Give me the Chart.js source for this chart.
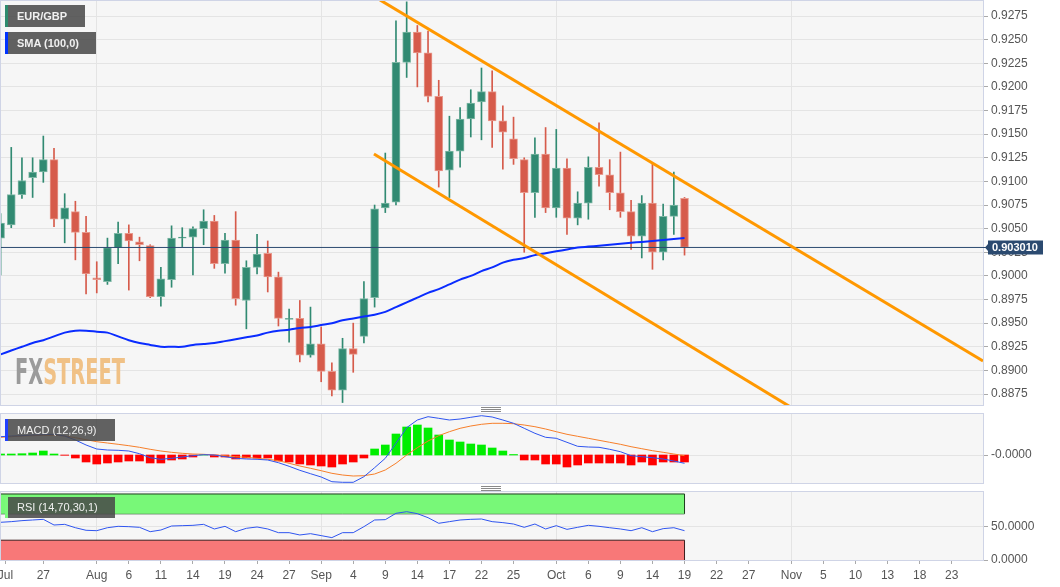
<!DOCTYPE html>
<html>
<head>
<meta charset="utf-8">
<title>EUR/GBP</title>
<script src="https://cdn.jsdelivr.net/npm/chart.js@4.4.1/dist/chart.umd.min.js"></script>
<style>
  body { margin: 0; background: #fff; font-family: "Liberation Sans", Arial, sans-serif; }
  #wrap { position: relative; width: 1060px; height: 587px; overflow: hidden; background: #fff; }
  canvas { position: absolute; left: 0; }
  .tag { position: absolute; left: 5px; height: 22px; line-height: 22px; background: rgba(72,72,72,0.86);
         color: #f0f0f0; font-size: 11px; font-weight: bold; padding-left: 9px; box-sizing: border-box; border-left: 3px solid; white-space: nowrap; }
  .grip { position: absolute; left: 481px; width: 20px; height: 5px;
          background: linear-gradient(#8a8a8a 0 1px, transparent 1px 2px, #8a8a8a 2px 3px, transparent 3px 4px, #8a8a8a 4px 5px); }
  #logo { position: absolute; left: 15px; top: 354px; font-family: "Liberation Sans Narrow", "DejaVu Sans Condensed", sans-serif;
          font-weight: bold; font-size: 36px; line-height: 36px; white-space: nowrap; transform-origin: 0 0; }
</style>
</head>
<body>
<div id="wrap">
  <canvas id="main" width="1060" height="410" style="top:0"></canvas>
  <canvas id="macd" width="1060" height="78" style="top:410px"></canvas>
  <canvas id="rsi" width="1060" height="99" style="top:488px"></canvas>
  <div id="logo"><span style="color:#9b9b9b">FX</span><span style="color:#f0c186">STREET</span></div>
  <div class="tag" style="top:5px;width:80px;border-left-color:#2e8b6e">EUR/GBP</div>
  <div class="tag" style="top:32px;width:91px;border-left-color:#0033ff">SMA (100,0)</div>
  <div class="tag" style="top:419px;width:110px;font-weight:normal;border-left-color:#2040ff">MACD (12,26,9)</div>
  <div class="tag" style="top:497px;width:110px;height:21px;line-height:21px;font-weight:normal;border-left-color:#7cf87c">RSI (14,70,30,1)</div>
  <div class="grip" style="top:407px"></div>
  <div class="grip" style="top:486px"></div>
</div>
<script>
// daily candles, 21 Jul .. 19 Oct (index 0..64)
var open = [0.9040,0.9054,0.9086,0.9104,0.9110,0.9123,0.9060,0.9068,0.9046,0.8998,
            0.8994,0.9030,0.9045,0.9036,0.9032,0.8978,0.8996,0.9040,0.9041,0.9050,
            0.9058,0.9013,0.9038,0.8974,0.9009,0.9024,0.8999,0.8954,0.8955,0.8916,
            0.8928,0.8899,0.8879,0.8923,0.8936,0.8977,0.9072,0.9078,0.9226,0.9258,
            0.9236,0.9190,0.9112,0.9132,0.9166,0.9184,0.9195,0.9164,0.9145,0.9123,
            0.9088,0.9129,0.9072,0.9114,0.9061,0.9077,0.9115,0.9107,0.9088,0.9068,
            0.9042,0.9077,0.9025,0.9063,0.9082];
var high = [0.9066,0.9136,0.9125,0.9125,0.9148,0.9135,0.9087,0.9079,0.9063,0.9015,
            0.9040,0.9057,0.9054,0.9041,0.9033,0.9009,0.9053,0.9051,0.9052,0.9070,
            0.9064,0.9045,0.9068,0.9016,0.9044,0.9037,0.9004,0.8965,0.8974,0.8967,
            0.8946,0.8908,0.8934,0.8950,0.8994,0.9075,0.9130,0.9270,0.9290,0.9265,
            0.9259,0.9207,0.9169,0.9178,0.9197,0.9220,0.9217,0.9180,0.9168,0.9125,
            0.9146,0.9157,0.9155,0.9124,0.9089,0.9126,0.9162,0.9123,0.9131,0.9080,
            0.9085,0.9119,0.9076,0.9110,0.9083];
var low = [0.9001,0.9051,0.9082,0.9083,0.9099,0.9052,0.9035,0.9017,0.8981,0.8982,
           0.8991,0.9013,0.8985,0.9016,0.8977,0.8968,0.8988,0.9031,0.9001,0.9033,
           0.9008,0.9003,0.8969,0.8944,0.9002,0.8983,0.8947,0.8930,0.8909,0.8914,
           0.8888,0.8873,0.8866,0.8898,0.8929,0.8967,0.9067,0.9075,0.9210,0.9200,
           0.9184,0.9094,0.9083,0.9115,0.9147,0.9144,0.9136,0.9113,0.9118,0.9025,
           0.9062,0.9067,0.9062,0.9044,0.9054,0.9060,0.9095,0.9070,0.9062,0.9028,
           0.9019,0.9007,0.9017,0.9044,0.9022];
var close = [0.9056,0.9086,0.9101,0.9110,0.9123,0.9060,0.9072,0.9046,0.9002,0.8996,
             0.9030,0.9045,0.9037,0.9033,0.8978,0.8997,0.9040,0.9041,0.9050,0.9058,
             0.9013,0.9038,0.8976,0.9009,0.9023,0.8999,0.8955,0.8955,0.8916,0.8928,
             0.8899,0.8879,0.8923,0.8917,0.8976,0.9071,0.9077,0.9226,0.9258,0.9236,
             0.9190,0.9111,0.9132,0.9166,0.9183,0.9195,0.9164,0.9152,0.9124,0.9088,
             0.9129,0.9072,0.9114,0.9061,0.9077,0.9115,0.9107,0.9088,0.9068,0.9042,
             0.9077,0.9025,0.9063,0.9075,0.90301];
var sma = [0.8917,0.8921,0.8925,0.8929,0.8932,0.8936,0.8940,0.8942,0.8942,0.8941,
           0.8940,0.8936,0.8932,0.8929,0.8927,0.8925,0.8925,0.8925,0.8927,0.8928,
           0.8929,0.8931,0.8933,0.8935,0.8937,0.8940,0.8942,0.8943,0.8945,0.8946,
           0.8948,0.8950,0.8953,0.8955,0.8957,0.8959,0.8962,0.8967,0.8972,0.8977,
           0.8982,0.8986,0.8991,0.8996,0.9000,0.9005,0.9009,0.9014,0.9017,0.9019,
           0.9022,0.9024,0.9026,0.9028,0.9030,0.9031,0.9032,0.9033,0.9034,0.9035,
           0.9036,0.9037,0.9038,0.9039,0.9040];
var macdLine = [0.00183,0.0019,0.00193,0.002,0.00203,0.00207,0.0019,0.0015,0.001,0.0006,
                0.0005,0.00047,0.0004,0.00013,-0.00027,-0.00043,-0.00033,-0.0002,-0.00007,0.00003,
                0,-0.00017,-0.00033,-0.0004,-0.00043,-0.0005,-0.00077,-0.00113,-0.00153,-0.00187,
                -0.0022,-0.00267,-0.00273,-0.00273,-0.00217,-0.00127,-0.00033,0.00117,0.00273,0.0035,
                0.00383,0.00367,0.0035,0.0036,0.00377,0.00393,0.0038,0.0035,0.00317,0.00267,
                0.00217,0.00177,0.00167,0.00127,0.00087,0.0008,0.00077,0.00057,0.00033,-0.00007,
                -0.00017,-0.00027,-0.0004,-0.0006,-0.00083];
var signalLine = [0.00177,0.00183,0.0019,0.00193,0.00197,0.00197,0.0019,0.00173,0.00153,0.00133,
                  0.0012,0.00107,0.00093,0.00077,0.00057,0.0004,0.00027,0.00017,0.0001,0.00007,
                  0,-0.00007,-0.00017,-0.00023,-0.00033,-0.00043,-0.00057,-0.00083,-0.0011,-0.00133,
                  -0.00157,-0.00183,-0.002,-0.0021,-0.00207,-0.0019,-0.0015,-0.00083,0,0.00073,
                  0.0014,0.00193,0.00233,0.00267,0.0029,0.00307,0.00317,0.00317,0.00313,0.003,
                  0.00283,0.0026,0.00233,0.00207,0.00187,0.00167,0.00147,0.00127,0.00107,0.00083,
                  0.00063,0.00043,0.00027,0.0001,-0.00007];
var histo = [0.0001,0.0001,0.00013,0.0002,0.0004,0.0001,-0.00003,-0.0003,-0.0007,-0.0009,
             -0.0008,-0.0007,-0.0006,-0.0006,-0.0008,-0.0008,-0.0005,-0.0004,-0.0002,0.00003,
             -0.0002,-0.0002,-0.0004,-0.0003,-0.0003,-0.0003,-0.0006,-0.0007,-0.0009,-0.001,
             -0.0011,-0.0012,-0.0009,-0.0007,-0.0003,0.0006,0.001,0.0021,0.0028,0.003,
             0.0027,0.002,0.0015,0.0013,0.0011,0.001,0.0007,0.0004,0.00005,-0.0005,
             -0.0005,-0.0009,-0.0009,-0.0012,-0.001,-0.0008,-0.0008,-0.0008,-0.0008,-0.001,
             -0.0007,-0.001,-0.0007,-0.0007,-0.0007];
var rsi = [57.1,58.1,59.6,60.6,61.6,53.0,54.0,48.9,45.0,44.4,
           48.9,51.0,50.5,49.5,42.9,45.4,51.5,52.0,52.5,54.0,
           47.0,51.0,42.9,48.0,50.0,47.0,41.4,41.4,37.9,39.9,
           36.9,33.9,41.4,41.4,50.5,60.6,61.1,70.7,73.2,70.2,
           64.1,55.6,58.1,60.6,61.6,62.1,58.1,56.6,54.5,49.5,
           54.5,47.0,52.0,46.4,49.5,52.5,51.0,48.9,47.0,44.4,
           48.9,42.9,47.5,48.9,44.4];

// hand drawn channel lines (day index, price)
var upperTrendX = [35.5, 91.93], upperTrendY = [0.9292, 0.8910];
var lowerTrendX = [34.94, 76], lowerTrendY = [0.9129, 0.8847];

// axes
var xTickPos = [0.45,4,9,12,15,18,21,24,27,30,33,36,39,42,45,48,52,55,58,61,64,67,70,74,77,80,83,86,89];
var xTickText = ['Jul','27','Aug','6','11','14','19','24','27','Sep','4','9','14','17','22','25','Oct','6','9','14','19','22','27','Nov','5','10','13','18','23'];
var priceTicks = [0.8875,0.8900,0.8925,0.8950,0.8975,0.9000,0.9025,0.9050,0.9075,0.9100,0.9125,0.9150,0.9175,0.9200,0.9225,0.9250,0.9275];
var macdTicks = [-0.000001];
var rsiTicks = [0, 50];
var X_MIN = 0.04, X_MAX = 91.93;
var lastClose = close[close.length - 1];

var UP = '#318a72', DOWN = '#d65b4b', UP_EDGE = '#7fb8a6', DOWN_EDGE = '#e89a8e';
var GRID = '#e4e4e4';

Chart.defaults.font.family = '"Liberation Sans", Arial, sans-serif';
Chart.defaults.font.size = 12;
Chart.defaults.color = '#555';

function pts(xs, ys) { return xs.map(function(x, i){ return {x: x, y: ys[i]}; }); }
function isUp(i) { return close[i] >= open[i]; }

function monthGrid(ctx) {
  var t = xTickText[ctx.index];
  return (t === 'Aug' || t === 'Sep' || t === 'Oct' || t === 'Nov') ? GRID : 'rgba(0,0,0,0)';
}

function xAxis(showLabels) {
  return {
    type: 'linear', min: X_MIN, max: X_MAX, bounds: 'data', offset: false,
    afterBuildTicks: function(s){ s.ticks = xTickPos.map(function(v){ return {value: v}; }); },
    afterFit: function(s){ s.height = showLabels ? 27 : 0; s.paddingLeft = 0; s.paddingRight = 0; },
    ticks: { display: showLabels, autoSkip: false, maxRotation: 0, padding: 4, color: '#555',
             callback: function(v, i){ return xTickText[i]; } },
    grid: { color: monthGrid, offset: false, drawTicks: showLabels, tickLength: 4, tickColor: '#aaa' },
    border: { display: false }
  };
}

function yAxis(min, max, ticks, fmt) {
  return {
    position: 'right', min: min, max: max, bounds: 'data',
    afterBuildTicks: function(s){ s.ticks = ticks.map(function(v){ return {value: v}; }); },
    afterFit: function(s){ s.width = 77; s.paddingTop = 0; s.paddingBottom = 0; },
    ticks: { padding: 3, color: '#555', callback: fmt },
    grid: { color: GRID, tickColor: '#aaa', tickLength: 5 },
    border: { display: false }
  };
}

var panel = {
  id: 'panel',
  beforeDraw: function(chart) {
    var a = chart.chartArea, c = chart.ctx;
    c.save(); c.fillStyle = '#f6f6f6'; c.fillRect(a.left, a.top, a.right - a.left, a.bottom - a.top); c.restore();
  },
  afterDraw: function(chart) {
    var a = chart.chartArea, c = chart.ctx;
    c.save(); c.strokeStyle = '#cfd4e6'; c.lineWidth = 1;
    c.strokeRect(a.left - 0.5, a.top - 0.5, a.right - a.left + 1, a.bottom - a.top + 1);
    c.restore();
  }
};

var priceTag = {
  id: 'priceTag',
  afterDraw: function(chart) {
    var c = chart.ctx, a = chart.chartArea;
    var y = Math.round(chart.scales.y.getPixelForValue(lastClose));
    var x0 = a.right + 5;
    c.save();
    c.fillStyle = '#2b4a70';
    c.fillRect(a.right, y, 4, 1);
    c.beginPath();
    c.moveTo(x0 - 3, y + 0.5); c.lineTo(x0, y - 3); c.lineTo(x0, y + 4); c.closePath(); c.fill();
    c.fillRect(x0, y - 6.5, 55, 14);
    c.fillStyle = '#fff'; c.font = 'bold 11px "Liberation Sans", Arial, sans-serif';
    c.textBaseline = 'middle';
    c.fillText(lastClose.toFixed(6), x0 + 4, y + 1);
    c.restore();
  }
};

var common = { responsive: false, animation: false, devicePixelRatio: 1,
               plugins: { legend: { display: false }, tooltip: { enabled: false } } };

new Chart(document.getElementById('main'), {
  type: 'bar',
  data: { datasets: [
    { type: 'line', data: pts(upperTrendX, upperTrendY), borderColor: '#ff9800', borderWidth: 3, pointRadius: 0, order: 0, clip: 0 },
    { type: 'line', data: pts(lowerTrendX, lowerTrendY), borderColor: '#ff9800', borderWidth: 3, pointRadius: 0, order: 0, clip: 0 },
    { type: 'line', data: sma.map(function(v, i){ return {x: i, y: v}; }), borderColor: '#0a2cff', borderWidth: 2,
      pointRadius: 0, tension: 0.3, order: 1, clip: 0 },
    { type: 'line', data: [{x: -1, y: lastClose}, {x: 100, y: lastClose}], borderColor: '#2b4a70', borderWidth: 1,
      pointRadius: 0, order: 2, clip: 0 },
    { type: 'bar', data: open.map(function(o, i){ return {x: i, y: [o, close[i]]}; }), grouped: false,
      barThickness: 8, borderWidth: 1, borderSkipped: false, order: 3, clip: 0,
      backgroundColor: function(c){ return isUp(c.dataIndex) ? UP : DOWN; },
      borderColor: function(c){ return isUp(c.dataIndex) ? UP_EDGE : DOWN_EDGE; } },
    { type: 'bar', data: low.map(function(l, i){ return {x: i, y: [l, high[i]]}; }), grouped: false,
      barThickness: 1, order: 4, clip: 0,
      backgroundColor: function(c){ return isUp(c.dataIndex) ? UP : DOWN; } }
  ]},
  options: Object.assign({}, common, {
    layout: { padding: { left: 1, top: 1, right: 0, bottom: 5 } },
    scales: {
      x: xAxis(false),
      y: yAxis(0.88634, 0.92909, priceTicks, function(v){ return v.toFixed(4); })
    }
  }),
  plugins: [panel, priceTag]
});

new Chart(document.getElementById('macd'), {
  type: 'bar',
  data: { datasets: [
    { type: 'line', data: macdLine.map(function(v, i){ return {x: i, y: v}; }), borderColor: '#2f55f0', borderWidth: 1,
      pointRadius: 0, order: 0, clip: 0 },
    { type: 'line', data: signalLine.map(function(v, i){ return {x: i, y: v}; }), borderColor: '#f77f2a', borderWidth: 1,
      pointRadius: 0, order: 1, clip: 0 },
    { type: 'bar', data: histo.map(function(v, i){ return {x: i, y: v}; }), grouped: false, barThickness: 8, order: 2,
      backgroundColor: function(c){ return histo[c.dataIndex] >= 0 ? '#00ee00' : '#ff0000'; } }
  ]},
  options: Object.assign({}, common, {
    layout: { padding: { left: 1, top: 4, right: 0, bottom: 5 } },
    scales: {
      x: xAxis(false),
      y: yAxis(-0.0028, 0.0041, macdTicks, function(v){ return v.toFixed(4); })
    }
  }),
  plugins: [panel]
});

new Chart(document.getElementById('rsi'), {
  type: 'line',
  data: { datasets: [
    { data: rsi.map(function(v, i){ return {x: i, y: v}; }), borderColor: '#2f55f0', borderWidth: 1, pointRadius: 0, order: 0, clip: 0 },
    { data: [{x: -1, y: 100}, {x: 64, y: 100}], borderColor: '#1d3d1d', borderWidth: 1, pointRadius: 0,
      fill: '+1', backgroundColor: '#78f878', order: 2, clip: 0 },
    { data: [{x: -1, y: 70}, {x: 64, y: 70}], borderColor: '#1d3d1d', borderWidth: 1, pointRadius: 0, order: 2, clip: 0 },
    { data: [{x: 64, y: 70}, {x: 64, y: 100}], borderColor: '#1d3d1d', borderWidth: 1, pointRadius: 0, order: 1, clip: 0 },
    { data: [{x: -1, y: 30}, {x: 64, y: 30}], borderColor: '#3d1d1d', borderWidth: 1, pointRadius: 0,
      fill: '+1', backgroundColor: '#f87878', order: 2, clip: 0 },
    { data: [{x: -1, y: 0}, {x: 64, y: 0}], borderColor: '#3d1d1d', borderWidth: 1, pointRadius: 0, order: 2, clip: 0 },
    { data: [{x: 64, y: 0}, {x: 64, y: 30}], borderColor: '#3d1d1d', borderWidth: 1, pointRadius: 0, order: 1, clip: 0 }
  ]},
  options: Object.assign({}, common, {
    layout: { padding: { left: 1, top: 4, right: 0, bottom: 0 } },
    scales: {
      x: xAxis(true),
      y: yAxis(0, 103, rsiTicks, function(v){ return v.toFixed(4); })
    }
  }),
  plugins: [panel]
});

// squeeze watermark to its width
var logo = document.getElementById('logo');
logo.style.transform = 'scaleX(' + (110 / logo.offsetWidth) + ')';
</script>
</body>
</html>
